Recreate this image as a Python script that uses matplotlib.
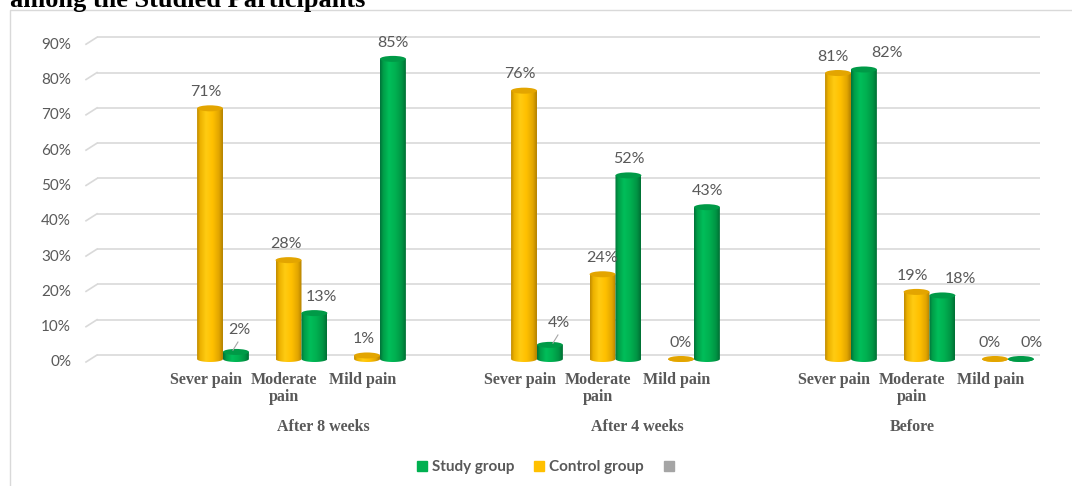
import numpy as np
import matplotlib
matplotlib.use("Agg")
import matplotlib.pyplot as plt
from matplotlib.patches import Ellipse, PathPatch, Rectangle
from matplotlib.path import Path
from matplotlib.colors import LinearSegmentedColormap
from matplotlib.lines import Line2D
from matplotlib.transforms import ScaledTranslation

# data
groups = ["After 8 weeks", "After 4 weeks", "Before"]
pain_levels = ["Sever pain", "Moderate\npain", "Mild pain"]
control = [71, 28, 1, 76, 24, 0, 81, 19, 0]
study = [2, 13, 85, 4, 52, 43, 82, 18, 0]
yticks = [0, 10, 20, 30, 40, 50, 60, 70, 80, 90]

GREY = "#595959"
GRID = "#D9D9D9"

yellow_cmap = LinearSegmentedColormap.from_list("yel", [
    (0, "#C28C00"), (0.12, "#EDB200"), (0.35, "#FFCB12"),
    (0.6, "#FFC000"), (0.85, "#E2A600"), (1, "#B58200")])
green_cmap = LinearSegmentedColormap.from_list("grn", [
    (0, "#00733A"), (0.12, "#009E48"), (0.35, "#00BE5A"),
    (0.6, "#00B050"), (0.85, "#009444"), (1, "#007034")])

fig = plt.figure(figsize=(10.72, 4.86), dpi=100)
ax = fig.add_axes([97 / 1072, 121 / 486, 943 / 1072, 340 / 486])

# slots: three per group, one empty slot between groups
pos = np.array([g * 4 + i for g in range(len(groups)) for i in range(len(pain_levels))])
w = 0.33
ry = 0.85
depth = 1.13
grad = np.linspace(0, 1, 64).reshape(1, -1)


def cylinder(x0, v, cmap, top):
    cx = x0 + w / 2
    t = np.linspace(np.pi, 2 * np.pi, 40)
    arc = list(zip(cx + w / 2 * np.cos(t), ry * np.sin(t)))
    verts = [(x0, v), (x0, 0)] + arc + [(x0 + w, v), (x0, v)]
    clip = PathPatch(Path(verts), fc="none", ec="none")
    ax.add_patch(clip)
    im = ax.imshow(grad, extent=[x0, x0 + w, -ry, v], aspect="auto",
                   cmap=cmap, origin="lower", zorder=3, interpolation="bilinear")
    im.set_clip_path(clip)
    ax.add_patch(Ellipse((cx, v), w, 2 * ry, fc=top, ec="none", zorder=4))


for i, p in enumerate(pos):
    cylinder(p - w, control[i], yellow_cmap, "#E3A500")
    cylinder(p, study[i], green_cmap, "#009A47")

# value labels (px nudges where Excel moved them apart)
ctrl_dx = [-4, -3, -3, -4, -1, 0, -5, -4, -5]
stud_dx = [3, 7, 0, 9, 0, 1, 23, 18, 11]
lead = {0, 3}
for i, p in enumerate(pos):
    cx = p - w / 2 + ctrl_dx[i] / 78.5
    ax.text(cx, control[i] + 4.6, f"{control[i]}%", ha="center", va="center",
            fontsize=11.5, color=GREY, family="Lato", zorder=5)
    sx = p + w / 2 + stud_dx[i] / 78.5
    off = 6.2 if i in lead else 4.6
    ax.text(sx, study[i] + off, f"{study[i]}%", ha="center", va="center",
            fontsize=11.5, color=GREY, family="Lato", zorder=5)
    if i in lead:
        ly = study[i] + off
        ax.plot([sx - 1 / 78.5, sx - 6 / 78.5], [ly - 3.4, ly - 5.7],
                color="#A6A6A6", lw=0.8, zorder=5)

# back-wall gridlines with the little 3D slant at the left
for t in yticks:
    ax.plot([-1.605, 10.408], [t + depth, t + depth], color=GRID, lw=1.2, zorder=1)
    ax.plot([-1.745, -1.605], [t - 0.85, t + depth], color=GRID, lw=1.2,
            zorder=1, clip_on=False)

ax.set_xlim(-1.605, 10.408)
ax.set_ylim(-1.70, 94.6)
for s in ax.spines.values():
    s.set_visible(False)

ax.set_yticks(yticks, labels=[f"{t}%" for t in yticks])
ax.tick_params(axis="y", length=0, pad=18.7, labelsize=11, labelcolor=GREY)
for lbl in ax.get_yticklabels():
    lbl.set_family("Lato")
    lbl.set_transform(lbl.get_transform() + ScaledTranslation(0, -2 / 100, fig.dpi_scale_trans))

ax.set_xticks(pos - 0.22, labels=pain_levels * len(groups))
ax.tick_params(axis="x", length=0, pad=5, labelsize=11.5, labelcolor=GREY)
for lbl in ax.get_xticklabels():
    lbl.set_family("Liberation Serif")
    lbl.set_weight("bold")
    lbl.set_linespacing(1.05)

for g, name in enumerate(groups):
    gx = g * 4 + (1.5 if g < len(groups) - 1 else 1) - 0.22
    ax.text(gx, -19.3, name, ha="center", va="center", fontsize=11.5,
            color=GREY, family="Liberation Serif", weight="bold", clip_on=False)

handles = [Line2D([], [], ls="", marker="s", ms=7, mfc="#00B050", mec="#00B050"),
           Line2D([], [], ls="", marker="s", ms=7, mfc="#FFC000", mec="#FFC000"),
           Line2D([], [], ls="", marker="s", ms=7, mfc="#A5A5A5", mec="#A5A5A5")]
leg = fig.legend(handles, ["Study group", "Control group", ""], loc="center",
                 bbox_to_anchor=(0.511, 0.039), ncol=3, frameon=False,
                 handlelength=0.7, handletextpad=0.3, columnspacing=1.3,
                 prop={"family": "Lato", "weight": "bold", "size": 11})
for txt in leg.get_texts():
    txt.set_color(GREY)

# chart frame and the clipped title above it
fig.patches.append(Rectangle((10 / 1072, -0.1), 1.1, 476 / 486 + 0.1,
                             transform=fig.transFigure, fill=False, ec=GRID, lw=1))
fig.text(10 / 1072, 1 - 7 / 486, "among the Studied Participants", ha="left",
         va="baseline", fontsize=19, weight="bold", family="Liberation Serif", color="black")

fig.savefig("out.png", dpi=100)
